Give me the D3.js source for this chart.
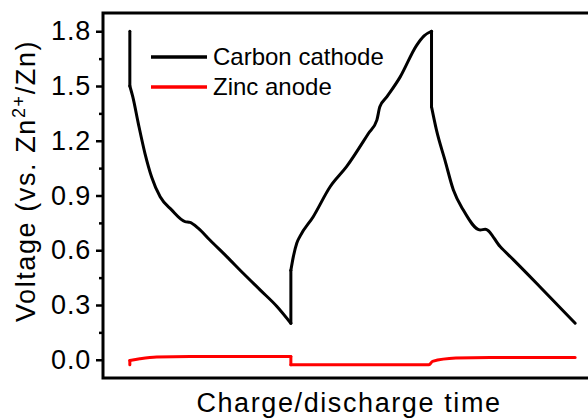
<!DOCTYPE html>
<html lang="en">
<head>
    <meta charset="UTF-8">
    <title>Charge / discharge</title>
    <script type="text/javascript" src="https://cdn.jsdelivr.net/npm/d3@7"></script>
    <style type="text/css">
        body { margin: 0; background: #fff; }
        text { font-family: Arial, "Liberation Sans", sans-serif; fill: #000; }
    </style>
</head>
<body>
    <script type="text/javascript">
        //Width and height
        var w = 588;
        var h = 419;
        var plotLeft = 103, plotTop = 13, plotBottom = 378, plotRight = 600;

        //Data (time in arbitrary units, volts)
        var cathodeTime = [5.4, 5.4, 6.0, 7.1, 8.45, 9.8, 11.5, 13.8, 16.5, 17.5, 19.2, 21.5, 24.9, 28.2, 31.6, 35.0, 37.8,
            37.8, 38.3, 39.0, 39.6, 42.3, 45.7, 49.0, 53.4, 55.1, 55.7, 57.1, 59.8, 63.1, 64.6, 66.1,
            66.1, 67.1, 68.8, 70.5, 72.5, 75.9, 76.9, 79.9, 82.6, 87.9, 95.0];
        var cathodeVolt = [1.80, 1.50, 1.44, 1.295, 1.13, 1.00, 0.893, 0.821, 0.757, 0.753, 0.72, 0.656, 0.565, 0.474, 0.383, 0.292, 0.20,
            0.49, 0.565, 0.64, 0.675, 0.784, 0.948, 1.058, 1.24, 1.313, 1.386, 1.44, 1.55, 1.723, 1.775, 1.80,
            1.386, 1.258, 1.094, 0.93, 0.82, 0.711, 0.715, 0.62, 0.547, 0.40, 0.20];

        var anodeTime = [5.4, 5.4, 7.4, 10.8, 17.5, 37.8, 37.8, 65.6, 66.3, 71.0, 77.9, 95.0];
        var anodeVolt = [-0.027, -0.004, 0.005, 0.015, 0.018, 0.018, -0.027, -0.027, -0.009, 0.009, 0.013, 0.013];

        var yTicks = [0, 0.3, 0.6, 0.9, 1.2, 1.5, 1.8];
        var yMinor = [0.15, 0.45, 0.75, 1.05, 1.35, 1.65];
        var seriesNames = ["Carbon cathode", "Zinc anode"];
        var seriesColors = ["#000000", "#ff0000"];

        var cathode = d3.zip(cathodeTime, cathodeVolt);
        var anode = d3.zip(anodeTime, anodeVolt);

        //Scales
        var xScale = d3.scaleLinear().domain([0, 100]).range([plotLeft, plotRight]);
        var yScale = d3.scaleLinear().domain([-0.1, 1.9]).range([plotBottom, plotTop]);

        var svg = d3.select("body")
            .append("svg")
            .attr("width", w)
            .attr("height", h);

        svg.append("rect")
            .attr("width", w).attr("height", h)
            .attr("fill", "#fff");

        var smooth = d3.line()
            .x(function(d) { return xScale(d[0]); })
            .y(function(d) { return yScale(d[1]); })
            .curve(d3.curveMonotoneX);

        //split a series where time stands still (the jumps), smooth the rest
        function pieces(data) {
            var out = [], cur = [data[0]];
            for (var i = 1; i < data.length; i++) {
                if (data[i][0] === data[i - 1][0]) {
                    if (cur.length > 1) out.push(cur);
                    out.push([data[i - 1], data[i]]);
                    cur = [data[i]];
                } else {
                    cur.push(data[i]);
                }
            }
            if (cur.length > 1) out.push(cur);
            return out;
        }

        function drawSeries(data, color) {
            svg.append("g")
                .selectAll("path")
                .data(pieces(data))
                .enter()
                .append("path")
                .attr("d", smooth)
                .attr("fill", "none")
                .attr("stroke", color)
                .attr("stroke-width", 3)
                .attr("stroke-linecap", "round")
                .attr("stroke-linejoin", "round");
        }

        drawSeries(anode, seriesColors[1]);
        drawSeries(cathode, seriesColors[0]);

        //Frame
        svg.append("rect")
            .attr("x", plotLeft).attr("y", plotTop)
            .attr("width", plotRight - plotLeft).attr("height", plotBottom - plotTop)
            .attr("fill", "none")
            .attr("stroke", "#000")
            .attr("stroke-width", 3);

        //Y axis
        var yAxis = svg.append("g")
            .attr("transform", "translate(" + plotLeft + ",0)")
            .call(d3.axisLeft(yScale)
                .tickValues(yTicks)
                .tickFormat(d3.format(".1f"))
                .tickSize(7)
                .tickPadding(5));
        yAxis.select(".domain").remove();
        yAxis.selectAll("line").attr("stroke-width", 2.5);
        yAxis.selectAll("text")
            .attr("font-family", "Arial, 'Liberation Sans', sans-serif")
            .attr("font-size", "27px")
            .attr("letter-spacing", "0.8px");

        var yMinorAxis = svg.append("g")
            .attr("transform", "translate(" + plotLeft + ",0)")
            .call(d3.axisLeft(yScale).tickValues(yMinor).tickSize(4).tickFormat(""));
        yMinorAxis.select(".domain").remove();
        yMinorAxis.selectAll("line").attr("stroke-width", 2.5);

        //Axis titles
        var yTitle = svg.append("text")
            .attr("transform", "translate(35,181) rotate(-90)")
            .attr("text-anchor", "middle")
            .attr("font-size", "27px")
            .attr("letter-spacing", "1.6px");
        yTitle.append("tspan").text("Voltage (vs. Zn");
        yTitle.append("tspan").attr("font-size", "18px").attr("dy", "-10").text("2+");
        yTitle.append("tspan").attr("dy", "10").text("/Zn)");

        svg.append("text")
            .attr("x", 349)
            .attr("y", 412)
            .attr("text-anchor", "middle")
            .attr("font-size", "27px")
            .attr("letter-spacing", "1.6px")
            .text("Charge/discharge time");

        //Legend
        var legend = svg.selectAll(".legend")
            .data(seriesNames)
            .enter()
            .append("g")
            .attr("class", "legend")
            .attr("transform", function(d, i) { return "translate(151," + (57 + i * 30) + ")"; });

        legend.append("line")
            .attr("x1", 0).attr("x2", 56)
            .attr("stroke", function(d, i) { return seriesColors[i]; })
            .attr("stroke-width", 3.5);

        legend.append("text")
            .attr("x", 62)
            .attr("y", 8)
            .attr("font-size", "24px")
            .text(function(d) { return d; });
    </script>
</body>
</html>
